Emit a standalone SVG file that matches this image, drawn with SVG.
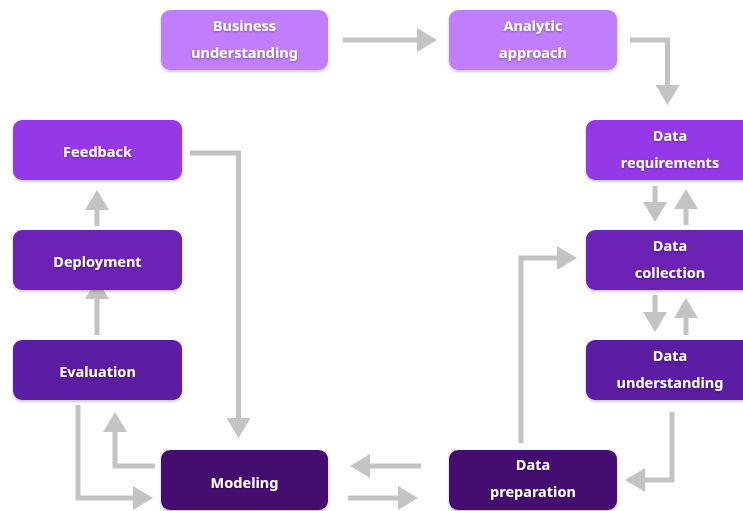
<svg xmlns="http://www.w3.org/2000/svg" width="743" height="511" viewBox="0 0 743 511">
  <defs>
    <filter id="boxShadow" x="-10%" y="-20%" width="120%" height="150%">
      <feDropShadow dx="0" dy="1.5" stdDeviation="1.5" flood-color="#000" flood-opacity="0.25"/>
    </filter>
    <filter id="textShadow" x="-10%" y="-30%" width="120%" height="160%">
      <feDropShadow dx="0" dy="1" stdDeviation="0.8" flood-color="#000" flood-opacity="0.35"/>
    </filter>
    <marker id="head" viewBox="0 -12 20 24" markerWidth="20" markerHeight="24" refX="1" refY="0" orient="auto" markerUnits="userSpaceOnUse">
      <path d="M0,-12 L20,0 L0,12 Z" fill="#c3c3c3"/>
    </marker>
  </defs>
  <style>
    .box { filter: url(#boxShadow); }
    .lbl { font-family: "Noto Sans", "Open Sans", sans-serif; font-weight: 700; font-size: 14.5px; fill: #ffffff; text-anchor: middle; filter: url(#textShadow); }
    .c1 { fill: #c17efc; }
    .c2 { fill: #9537e8; }
    .c3 { fill: #6c21b5; }
    .c4 { fill: #5c1aa3; }
    .c5 { fill: #44106f; }
    .edge { fill: none; stroke: #c3c3c3; stroke-width: 5; stroke-linejoin: miter; marker-end: url(#head); }
  </style>
  <rect width="743" height="511" fill="#ffffff"/>

  <g id="connectors">
    <path class="edge" d="M343,40 H418"/>
    <path class="edge" d="M630,40 H667.5 V86"/>
    <path class="edge" d="M190,153 H238.5 V419"/>
    <path class="edge" d="M97,226 V209"/>
    <path class="edge" d="M97,335 V298"/>
    <path class="edge" d="M155,466 H115 V431"/>
    <path class="edge" d="M78,405 V498 H134"/>
    <path class="edge" d="M421,466 H369"/>
    <path class="edge" d="M348,498 H399"/>
    <path class="edge" d="M521,443 V258 H558"/>
    <path class="edge" d="M672,412 V480 H644"/>
    <path class="edge" d="M655,186 V203"/>
    <path class="edge" d="M686,225 V208"/>
    <path class="edge" d="M655,295 V313"/>
    <path class="edge" d="M686,335 V317"/>
  </g>

  <g id="business-understanding">
    <rect class="box c1" x="161" y="10" width="167" height="60" rx="9"/>
    <text class="lbl" x="244.5" y="31">Business</text>
    <text class="lbl" x="244.5" y="58">understanding</text>
  </g>
  <g id="analytic-approach">
    <rect class="box c1" x="449" y="10" width="168" height="60" rx="9"/>
    <text class="lbl" x="533" y="31">Analytic</text>
    <text class="lbl" x="533" y="58">approach</text>
  </g>
  <g id="data-requirements">
    <rect class="box c2" x="586" y="120" width="168" height="60" rx="9"/>
    <text class="lbl" x="670" y="141">Data</text>
    <text class="lbl" x="670" y="168">requirements</text>
  </g>
  <g id="data-collection">
    <rect class="box c3" x="586" y="230" width="168" height="60" rx="9"/>
    <text class="lbl" x="670" y="251">Data</text>
    <text class="lbl" x="670" y="278">collection</text>
  </g>
  <g id="data-understanding">
    <rect class="box c4" x="586" y="340" width="168" height="60" rx="9"/>
    <text class="lbl" x="670" y="361">Data</text>
    <text class="lbl" x="670" y="388">understanding</text>
  </g>
  <g id="data-preparation">
    <rect class="box c5" x="449" y="450" width="168" height="60" rx="9"/>
    <text class="lbl" x="533" y="470">Data</text>
    <text class="lbl" x="533" y="497">preparation</text>
  </g>
  <g id="modeling">
    <rect class="box c5" x="161" y="450" width="167" height="60" rx="9"/>
    <text class="lbl" x="244.5" y="488">Modeling</text>
  </g>
  <g id="evaluation">
    <rect class="box c4" x="13" y="340" width="169" height="60" rx="9"/>
    <text class="lbl" x="97.5" y="377">Evaluation</text>
  </g>
  <g id="deployment">
    <rect class="box c3" x="13" y="230" width="169" height="60" rx="9"/>
    <text class="lbl" x="97.5" y="267">Deployment</text>
  </g>
  <g id="feedback">
    <rect class="box c2" x="13" y="120" width="169" height="60" rx="9"/>
    <text class="lbl" x="97.5" y="157">Feedback</text>
  </g>
</svg>
